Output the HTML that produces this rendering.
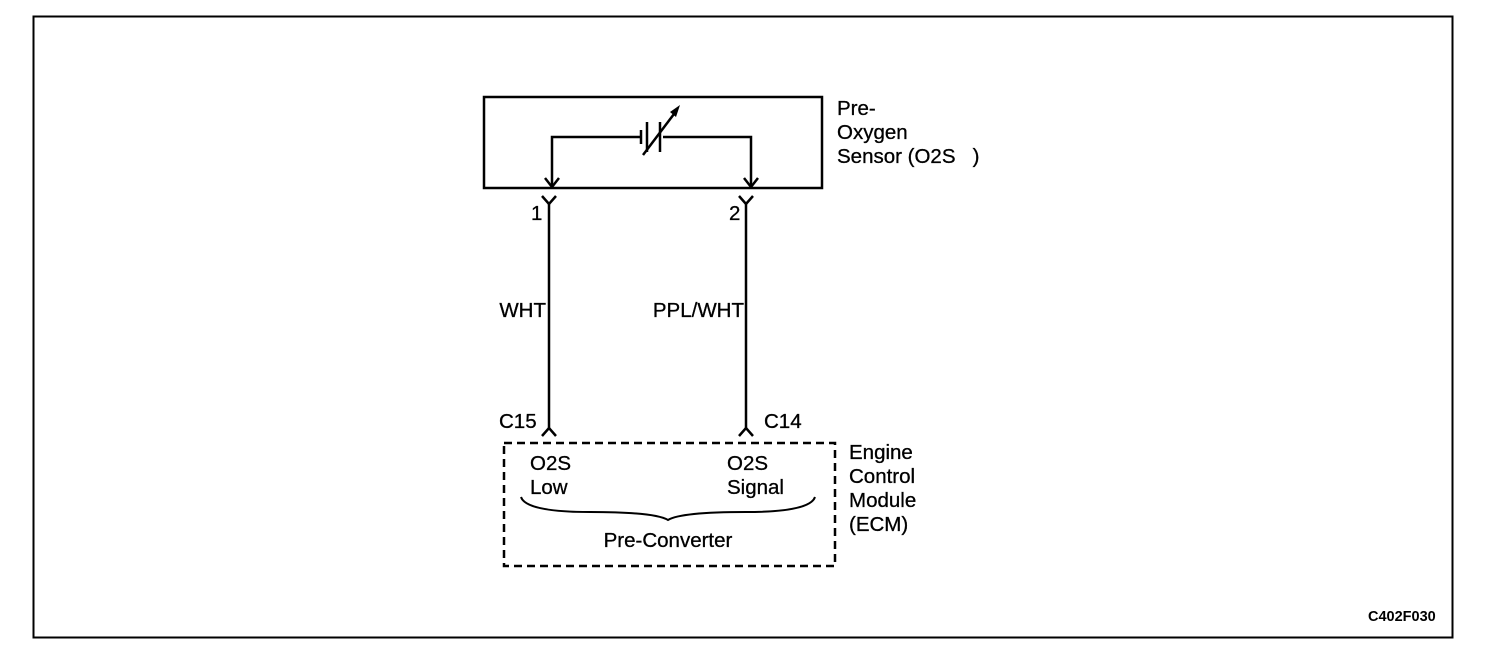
<!DOCTYPE html>
<html><head><style>
html,body{margin:0;padding:0;background:#fff;}
svg{display:block;}
text{font-family:"Liberation Sans",Arial,sans-serif;font-size:20.5px;fill:#000;stroke:#000;stroke-width:0.3;}
</style></head><body>
<svg width="1504" height="652" viewBox="0 0 1504 652" xmlns="http://www.w3.org/2000/svg">
<rect x="33.5" y="16.5" width="1419" height="621" fill="none" stroke="#000" stroke-width="2"/>
<rect x="484" y="97" width="338" height="91" fill="none" stroke="#000" stroke-width="2.5"/>
<polyline points="552,186 552,137 640,137" fill="none" stroke="#000" stroke-width="2.5"/>
<polyline points="663,137 751,137 751,186" fill="none" stroke="#000" stroke-width="2.5"/>
<line x1="641" y1="130" x2="641" y2="144" stroke="#000" stroke-width="2.5"/>
<line x1="647" y1="122" x2="647" y2="152" stroke="#000" stroke-width="2.5"/>
<line x1="660" y1="122" x2="660" y2="152" stroke="#000" stroke-width="2.5"/>
<line x1="643" y1="155" x2="677" y2="110" stroke="#000" stroke-width="2.5"/>
<polygon points="680,105 670,112 676,117" fill="#000"/>
<polyline points="545,178 552,187 559,178" fill="none" stroke="#000" stroke-width="2.5"/>
<polyline points="744,178 751,187 758,178" fill="none" stroke="#000" stroke-width="2.5"/>
<polyline points="542,196 549,204 556,196" fill="none" stroke="#000" stroke-width="2.5"/>
<polyline points="739,196 746,204 753,196" fill="none" stroke="#000" stroke-width="2.5"/>
<line x1="549" y1="204" x2="549" y2="428" stroke="#000" stroke-width="2.5"/>
<line x1="746" y1="204" x2="746" y2="428" stroke="#000" stroke-width="2.5"/>
<polyline points="542,436 549,428 556,436" fill="none" stroke="#000" stroke-width="2.5"/>
<polyline points="739,436 746,428 753,436" fill="none" stroke="#000" stroke-width="2.5"/>
<rect x="504" y="443" width="331" height="123" fill="none" stroke="#000" stroke-width="2.5" stroke-dasharray="8,5"/>
<path d="M521,497 Q526,512 590,512 Q655,512 668,520 Q681,512 746,512 Q810,512 815,497" fill="none" stroke="#000" stroke-width="2"/>
<text x="837" y="115">Pre-</text>
<text x="837" y="139">Oxygen</text>
<text x="837" y="163">Sensor (O2S&#160;&#160;&#160;)</text>
<text x="531" y="220">1</text>
<text x="729" y="220">2</text>
<text x="546" y="317" text-anchor="end">WHT</text>
<text x="744" y="317" text-anchor="end">PPL/WHT</text>
<text x="499" y="428">C15</text>
<text x="764" y="428">C14</text>
<text x="530" y="470">O2S</text>
<text x="530" y="494">Low</text>
<text x="727" y="470">O2S</text>
<text x="727" y="494">Signal</text>
<text x="668" y="547" text-anchor="middle">Pre-Converter</text>
<text x="849" y="459">Engine</text>
<text x="849" y="483">Control</text>
<text x="849" y="507">Module</text>
<text x="849" y="531">(ECM)</text>
<text x="1368" y="621" style="font-size:14.5px;font-weight:bold;stroke-width:0">C402F030</text>
</svg>
</body></html>
